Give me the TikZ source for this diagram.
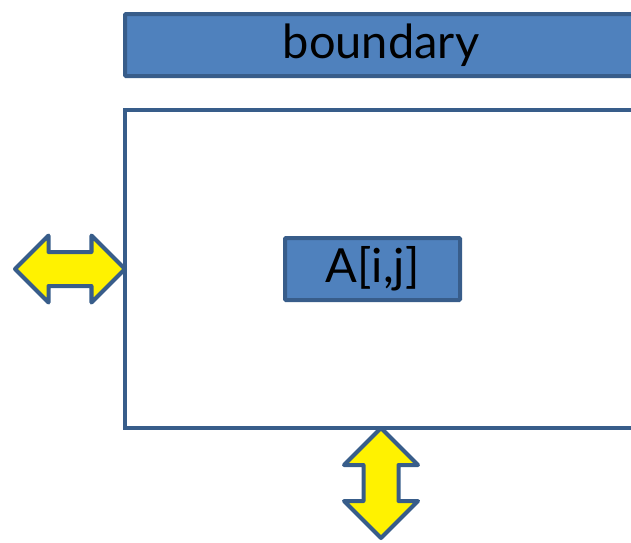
\documentclass[tikz,border=0pt]{standalone}
\usepackage{fontspec}
\setmainfont{Lato}
\usetikzlibrary{shapes,arrows}
\usetikzlibrary{positioning}
\definecolor{edgeblue}{RGB}{56,93,138}
\definecolor{fillblue}{RGB}{79,129,189}
\tikzstyle{bluebox}=[draw=edgeblue, fill=fillblue, line width=4pt, rounded corners=1pt,
inner sep=0pt, outer sep=0pt, font=\fontsize{47}{47}\selectfont]
\tikzstyle{frame}=[draw=edgeblue, line width=4pt, inner sep=0pt, outer sep=0pt]
\tikzstyle{xchg}=[double arrow, draw=edgeblue, fill=yellow, line width=4pt, line join=round,
inner xsep=0pt, outer sep=0pt, double arrow tip angle=90, minimum height=110pt]

\begin{document}
\begin{tikzpicture}[x=1pt, y=-1pt]

    \useasboundingbox (0,0) rectangle (631,542);
    \clip (0,0) rectangle (631,542);

    \node[bluebox, anchor=north west, minimum width=512pt, minimum height=62pt] (boundary) at (125,14) {boundary};

    \node[frame, anchor=north west, minimum width=600pt, minimum height=318pt] (area) at (125,110) {};

    \node[bluebox, minimum width=175pt, minimum height=62pt] (Aij) at (372.5,269) {A[i,j]};

    \node[xchg, left=0pt of area.west, inner ysep=15pt, double arrow head extend=16.5pt] (hflow) {};

    \node[xchg, rotate=90, anchor=east, inner ysep=15.5pt, double arrow head extend=19.5pt] (vflow) at (381,428) {};

\end{tikzpicture}
\end{document}
